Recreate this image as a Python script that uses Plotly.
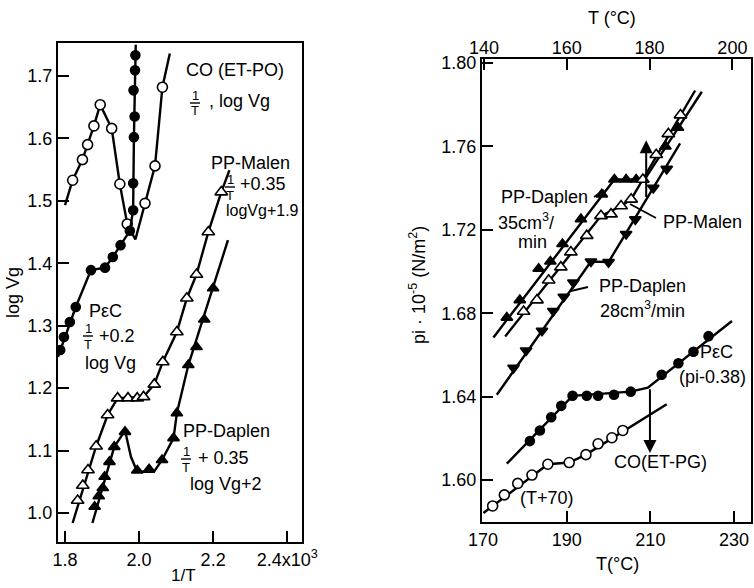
import plotly.graph_objects as go

W, H = 754, 588
FONT = "Liberation Sans"

# ---------------- Left panel: log Vg vs 1/T (x10^3) ----------------
# CO(ET-PO): open circles
co_po_line_x = [1.800, 1.8205, 1.847, 1.861, 1.878, 1.895, 1.926, 1.948, 1.968, 1.990, 2.016, 2.043, 2.063, 2.083]
co_po_line_y = [1.493, 1.533, 1.566, 1.590, 1.620, 1.654, 1.616, 1.527, 1.463, 1.438, 1.496, 1.556, 1.682, 1.736]
co_po_x = [1.8205, 1.847, 1.861, 1.878, 1.895, 1.926, 1.948, 1.968, 2.016, 2.043, 2.063]
co_po_y = [1.533, 1.566, 1.590, 1.620, 1.654, 1.616, 1.527, 1.463, 1.496, 1.556, 1.682]

# PεC (1/T + 0.2): filled circles
pec_l_line_x = [1.781, 1.829, 1.870, 1.908, 1.929, 1.950, 1.975, 1.984, 1.986, 1.991]
pec_l_line_y = [1.250, 1.330, 1.389, 1.393, 1.410, 1.429, 1.452, 1.485, 1.600, 1.750]
pec_l_x = [1.787, 1.797, 1.813, 1.829, 1.870, 1.908, 1.929, 1.950, 1.975, 1.984, 1.984, 1.986, 1.988, 1.985, 1.989, 1.990]
pec_l_y = [1.261, 1.282, 1.306, 1.330, 1.389, 1.393, 1.410, 1.429, 1.452, 1.485, 1.528, 1.602, 1.635, 1.677, 1.709, 1.733]

# PP-Malen (1/T + 0.35, logVg + 1.9): open triangles
malen_l_line_x = [1.8205, 1.884, 1.915, 1.942, 2.012, 2.041, 2.064, 2.102, 2.129, 2.155, 2.187, 2.222, 2.244]
malen_l_line_y = [0.984, 1.107, 1.157, 1.184, 1.186, 1.206, 1.242, 1.290, 1.344, 1.382, 1.450, 1.514, 1.549]
malen_l_x = [1.834, 1.848, 1.862, 1.884, 1.915, 1.942, 1.970, 1.995, 2.012, 2.041, 2.064, 2.102, 2.129, 2.155, 2.187, 2.222]
malen_l_y = [1.020, 1.044, 1.069, 1.107, 1.157, 1.184, 1.184, 1.184, 1.186, 1.206, 1.242, 1.290, 1.344, 1.382, 1.450, 1.514]

# PP-Daplen (1/T + 0.35, logVg + 2): filled triangles
daplen_l_line_x = [1.874, 1.933, 1.962, 1.978, 1.995, 2.040, 2.062, 2.093, 2.102, 2.133, 2.240]
daplen_l_line_y = [0.984, 1.106, 1.132, 1.090, 1.066, 1.066, 1.085, 1.120, 1.160, 1.237, 1.437]
daplen_l_x = [1.880, 1.891, 1.902, 1.907, 1.920, 1.933, 1.962, 1.995, 2.027, 2.062, 2.093, 2.102, 2.133, 2.155, 2.176, 2.200]
daplen_l_y = [1.010, 1.027, 1.040, 1.058, 1.082, 1.106, 1.130, 1.068, 1.070, 1.085, 1.120, 1.160, 1.237, 1.266, 1.310, 1.360]

left_xticks = [1.8, 2.0, 2.2, 2.4]
left_xticktext = ["1.8", "2.0", "2.2", "2.4x10<sup>3</sup>"]
left_yticks = [1.0, 1.1, 1.2, 1.3, 1.4, 1.5, 1.6, 1.7]

# ---------------- Right panel: pi·10^-5 vs T(°C) ----------------
# PP-Daplen 35 cm3/min: filled up-triangles
d35_line_x = [172.5, 201.4, 208.6, 222.3]
d35_line_y = [1.6684, 1.7441, 1.7441, 1.7862]
d35_x = [175.7, 178.8, 183.3, 186.1, 189.0, 193.4, 198.4, 201.4, 204.2, 206.6, 213.6, 216.6]
d35_y = [1.6779, 1.6863, 1.7013, 1.7048, 1.7132, 1.7251, 1.7370, 1.7441, 1.7441, 1.7441, 1.7600, 1.7690]

# PP-Malen: open up-triangles
malen_r_line_x = [175.3, 198.2, 203.0, 205.4, 220.7]
malen_r_line_y = [1.6689, 1.7267, 1.7314, 1.7346, 1.7868]
malen_r_x = [179.7, 182.9, 185.7, 188.6, 191.0, 194.8, 198.2, 200.6, 203.0, 205.4, 208.2, 211.4, 214.3, 217.2]
malen_r_y = [1.6808, 1.6863, 1.6958, 1.7021, 1.7093, 1.7172, 1.7267, 1.7275, 1.7314, 1.7346, 1.7441, 1.7560, 1.7660, 1.7750]

# PP-Daplen 28 cm3/min: filled down-triangles
d28_line_x = [173.3, 195.8, 200.0, 217.1]
d28_line_y = [1.6409, 1.7048, 1.7045, 1.7615]
d28_x = [177.3, 180.3, 184.1, 186.8, 189.3, 191.6, 195.8, 200.0, 204.2, 206.4, 210.7, 213.9]
d28_y = [1.6538, 1.6621, 1.6716, 1.6811, 1.6879, 1.6947, 1.7048, 1.7045, 1.7180, 1.7250, 1.7401, 1.7492]

# PεC (pi - 0.38): filled circles
pec_r_line_x = [175.7, 191.4, 205.3, 209.4, 229.5]
pec_r_line_y = [1.6079, 1.6404, 1.6424, 1.6443, 1.6763]
pec_r_x = [181.2, 183.6, 186.3, 188.7, 191.4, 194.8, 197.5, 201.3, 205.3, 212.7, 216.7, 220.3, 223.9]
pec_r_y = [1.6187, 1.6238, 1.6301, 1.6356, 1.6404, 1.6404, 1.6404, 1.6409, 1.6424, 1.6505, 1.6560, 1.6615, 1.6690]

# CO(ET-PG) (T + 70): open circles
co_pg_line_x = [170.1, 185.5, 190.6, 194.6, 213.9]
co_pg_line_y = [1.5842, 1.6076, 1.6084, 1.6122, 1.6364]
co_pg_x = [172.3, 175.1, 178.3, 181.7, 185.5, 190.6, 194.6, 197.5, 200.8, 203.4]
co_pg_y = [1.5876, 1.5929, 1.5984, 1.6024, 1.6076, 1.6084, 1.6122, 1.6174, 1.6203, 1.6238]

# transition arrows (T, y_from, y_to)
arrow_up = (209.0, 1.735, 1.763)
arrow_down = (209.9, 1.6443, 1.6130)

right_xticks = [170, 190, 210, 230]
right_top_xticks = [140, 160, 180, 200]
right_yticks = [1.60, 1.64, 1.68, 1.72, 1.76, 1.80]

fig = go.Figure()


def add_series(lx, ly, mx, my, symbol, fill, xa, ya, size=10):
    fig.add_trace(go.Scatter(x=lx, y=ly, mode="lines", line=dict(color="black", width=2.4),
                             xaxis=xa, yaxis=ya, hoverinfo="skip", showlegend=False))
    fig.add_trace(go.Scatter(x=mx, y=my, mode="markers",
                             marker=dict(symbol=symbol, size=size, color=fill,
                                         line=dict(color="black", width=1.6)),
                             xaxis=xa, yaxis=ya, showlegend=False))


add_series(co_po_line_x, co_po_line_y, co_po_x, co_po_y, "circle", "white", "x", "y")
add_series(pec_l_line_x, pec_l_line_y, pec_l_x, pec_l_y, "circle", "black", "x", "y", 9)
add_series(malen_l_line_x, malen_l_line_y, malen_l_x, malen_l_y, "triangle-up", "white", "x", "y", 11)
add_series(daplen_l_line_x, daplen_l_line_y, daplen_l_x, daplen_l_y, "triangle-up", "black", "x", "y", 10)

add_series(d35_line_x, d35_line_y, d35_x, d35_y, "triangle-up", "black", "x2", "y2", 10)
add_series(malen_r_line_x, malen_r_line_y, malen_r_x, malen_r_y, "triangle-up", "white", "x2", "y2", 11)
add_series(d28_line_x, d28_line_y, d28_x, d28_y, "triangle-down", "black", "x2", "y2", 10)
add_series(pec_r_line_x, pec_r_line_y, pec_r_x, pec_r_y, "circle", "black", "x2", "y2", 9)
add_series(co_pg_line_x, co_pg_line_y, co_pg_x, co_pg_y, "circle", "white", "x2", "y2", 10)

# dummy trace to activate top temperature axis
fig.add_trace(go.Scatter(x=[right_top_xticks[0], right_top_xticks[-1]], y=[None, None], mode="markers",
                         xaxis="x3", yaxis="y2", showlegend=False, hoverinfo="skip"))

axis_common = dict(showline=True, linecolor="black", linewidth=2.4, mirror=True, ticks="inside",
                   ticklen=11, tickwidth=2, tickcolor="black", showgrid=False, zeroline=False,
                   automargin=False, tickfont=dict(family=FONT, size=18, color="black"))


def px(x):
    return x / W


def py(y):
    return 1 - y / H


fig.update_layout(
    template="none",
    width=W, height=H, margin=dict(l=0, r=0, t=0, b=0, autoexpand=False),
    paper_bgcolor="white", plot_bgcolor="white", showlegend=False,
    font=dict(family=FONT, size=18, color="black"),
    xaxis=dict(domain=[px(58), px(302)], anchor="y", range=[1.781, 2.440],
               tickvals=left_xticks, ticktext=left_xticktext, **axis_common),
    yaxis=dict(domain=[py(542), py(43)], anchor="x", range=[0.9536, 1.7528],
               tickvals=left_yticks, tickformat=".1f", **axis_common),
    xaxis2=dict(domain=[px(482), px(751)], anchor="y2", range=[169.76, 234.05],
                tickvals=right_xticks, **axis_common),
    yaxis2=dict(domain=[py(522), py(59)], anchor="x2", range=[1.5799, 1.8019],
                tickvals=right_yticks, tickformat=".2f", **axis_common),
    xaxis3=dict(overlaying="x2", anchor="y2", side="top", range=[139.5, 204.5],
                tickvals=right_top_xticks, showline=False, ticks="inside", ticklen=11, tickwidth=2,
                tickcolor="black", showgrid=False, zeroline=False, automargin=False,
                tickfont=dict(family=FONT, size=18, color="black")),
)

ann = []
shapes = []


def text(x, y, s, size=18, angle=0, xanchor="center"):
    ann.append(dict(x=px(x), y=py(y), xref="paper", yref="paper", text=s, showarrow=False,
                    xanchor=xanchor, yanchor="middle", textangle=angle,
                    font=dict(family=FONT, size=size, color="black")))


def frac(x, y, size=13):
    # stacked "1 over T"
    text(x, y - 8, "1", size=size)
    text(x, y + 8, "T", size=size)
    shapes.append(dict(type="line", xref="paper", yref="paper", x0=px(x - 5), x1=px(x + 5),
                       y0=py(y), y1=py(y), line=dict(color="black", width=1.4)))


# left panel labels
text(235, 70, "CO (ET-PO)")
frac(195, 103)
text(207, 101, ", log Vg", xanchor="left")
text(250, 163, "PP-Malen")
frac(230, 187)
text(238, 184, "+0.35", xanchor="left")
text(262, 210, "logVg+1.9", size=16)
text(105, 311, "PεC")
frac(88, 336)
text(97, 336, "+0.2", xanchor="left")
text(110, 363, "log Vg")
text(226, 431, "PP-Daplen")
frac(186, 459)
text(196, 458, "+ 0.35", xanchor="left")
text(226, 484, "log Vg+2")
text(183, 575, "1/T", size=17)
text(13, 293, "log Vg", size=18, angle=-90)

# right panel labels
text(612, 18, "T (°C)", size=18)
text(418, 285, "pi · 10<sup>-5</sup> (N/m<sup>2</sup>)", size=18, angle=-90)
text(617, 564, "T(°C)", size=18)
text(544, 197, "PP-Daplen")
text(526, 222, "35cm<sup>3</sup>/")
text(532, 242, "min")
text(702, 222, "PP-Malen")
text(642, 286, "PP-Daplen")
text(642, 309, "28cm<sup>3</sup>/min")
text(716, 352, "PεC")
text(712, 377, "(pi-0.38)")
text(660, 462, "CO(ET-PG)")
text(547, 498, "(T+70)")

# transition arrows
for (tx, y0, y1) in (arrow_up, arrow_down):
    ann.append(dict(x=tx, y=y1, ax=tx, ay=y0, xref="x2", yref="y2", axref="x2", ayref="y2",
                    text="", showarrow=True, arrowhead=2, arrowsize=1.3, arrowwidth=2,
                    arrowcolor="black"))

# leader lines for labels
leaders = [((594, 197), (604, 190)), ((656, 218), (630, 204)), ((588, 287), (571, 291))]
for (a, b) in leaders:
    shapes.append(dict(type="line", xref="paper", yref="paper", x0=px(a[0]), y0=py(a[1]),
                       x1=px(b[0]), y1=py(b[1]), line=dict(color="black", width=1.8)))

fig.update_layout(annotations=ann, shapes=shapes)

fig.write_html("out.html", config={"displayModeBar": False},
               post_script="document.body.style.margin='0';document.body.style.overflow='hidden';")
